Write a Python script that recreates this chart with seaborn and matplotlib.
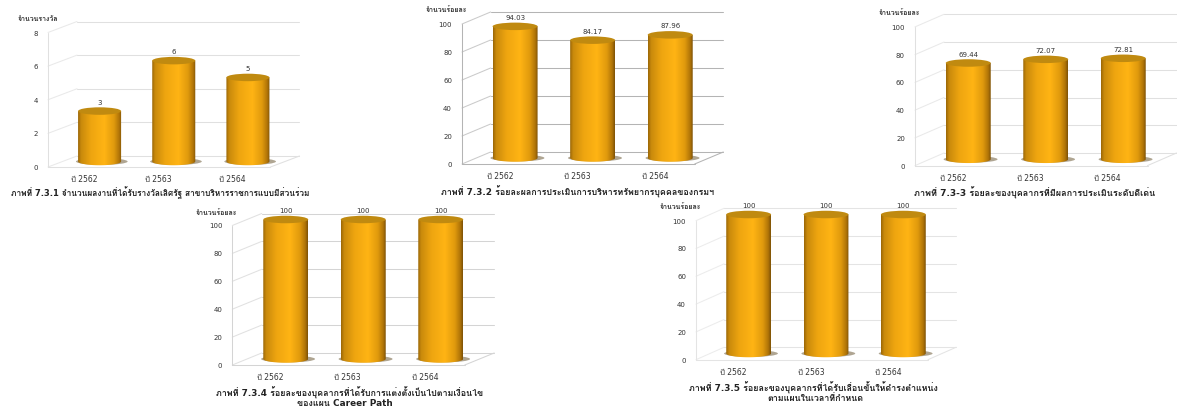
import numpy as np
import matplotlib
matplotlib.use("Agg")
import matplotlib.pyplot as plt
from matplotlib import font_manager as fm
from matplotlib.patches import Ellipse
from matplotlib.path import Path
from matplotlib.colors import LinearSegmentedColormap
from matplotlib.transforms import Affine2D
import seaborn as sns

# ---- data ----
years = ["ปี 2562", "ปี 2563", "ปี 2564"]
awards = [3, 6, 5]
hr_assessment = [94.03, 84.17, 87.96]
outstanding_staff = [69.44, 72.07, 72.81]
career_path = [100, 100, 100]
promotion = [100, 100, 100]
award_ticks = [0, 2, 4, 6, 8]
percent_ticks = [0, 20, 40, 60, 80, 100]

unit_awards = "จำนวนรางวัล"
unit_percent = "จำนวนร้อยละ"

caption_1 = ["ภาพที่ 7.3.1 จำนวนผลงานที่ได้รับรางวัลเลิศรัฐ สาขาบริหารราชการแบบมีส่วนร่วม"]
caption_2 = ["ภาพที่ 7.3.2 ร้อยละผลการประเมินการบริหารทรัพยากรบุคคลของกรมฯ"]
caption_3 = ["ภาพที่ 7.3-3 ร้อยละของบุคลากรที่มีผลการประเมินระดับดีเด่น"]
caption_4 = ["ภาพที่ 7.3.4 ร้อยละของบุคลากรที่ได้รับการแต่งตั้งเป็นไปตามเงื่อนไข", "ของแผน Career Path"]
caption_5 = ["ภาพที่ 7.3.5 ร้อยละของบุคลากรที่ได้รับเลื่อนขั้นให้ดำรงตำแหน่ง", "ตามแผนในเวลาที่กำหนด"]

W, H = 1177, 410
sns.set_theme(style="white")

# Latin and digits stay in DejaVu; Thai falls through to a family that carries it
thai_families = []
for entry in fm.fontManager.ttflist:
    try:
        if 0x0E20 in fm.get_font(entry.fname).get_charmap() and entry.name not in thai_families:
            thai_families.append(entry.name)
    except Exception:
        pass
plt.rcParams["font.family"] = ["DejaVu Sans"] + thai_families

body_cmap = LinearSegmentedColormap.from_list(
    "cylinder",
    [(0.0, "#9a6607"), (0.07, "#c98a0c"), (0.3, "#eea510"), (0.6, "#ffb414"),
     (0.82, "#e09a0d"), (0.94, "#b07408"), (1.0, "#7d5206")],
)
gradient = np.linspace(0, 1, 256).reshape(1, -1)


def draw_panel(left, right, y_zero, y_top, depth, values, ticks, unit, unit_xy,
               caption, caption_xy, grid="#e0e0e0", caption_size=6.5):
    """Oblique 3-D column chart; the axes sits on the plane through the column centres."""
    ax = fig.add_axes([left / W, 1 - y_zero / H, (right - left) / W, (y_zero - y_top) / H])
    ax.patch.set_alpha(0)
    sns.barplot(x=years, y=values, ax=ax, width=0.58, color="#f0a010", saturation=1, zorder=3)
    ax.set_xlim(-0.5, 2.5)
    ax.set_ylim(0, ticks[-1])
    ax.axis("off")

    ddx, ddy = depth
    front = ax.transData + Affine2D().translate(-ddx, -ddy)
    back = ax.transData + Affine2D().translate(ddx, ddy)
    y_per_px = ticks[-1] / (y_zero - y_top)
    ell_h = 7.5 * y_per_px

    def segment(p0, t0, p1, t1, **kw):
        a = t0.transform(p0)
        b = t1.transform(p1)
        fig.add_artist(plt.Line2D([a[0] / W, b[0] / W], [a[1] / H, b[1] / H],
                                  transform=fig.transFigure, lw=0.75, zorder=0, **kw))

    # walls and floor
    for t in ticks:
        segment((-0.5, t), front, (-0.5, t), back, color=grid, alpha=0.7)
        segment((-0.5, t), back, (2.5, t), back, color=grid)
    segment((-0.5, 0), front, (-0.5, ticks[-1]), front, color=grid)
    segment((-0.5, 0), front, (2.5, 0), front, color=grid)
    segment((2.5, 0), front, (2.5, 0), back, color=grid)

    # turn each flat bar into a shaded cylinder
    arc = np.linspace(np.pi, 2 * np.pi, 40)
    for patch, value in zip(ax.patches[:3], values):
        x0, bw = patch.get_x(), patch.get_width()
        cx = x0 + bw / 2
        ax.add_patch(Ellipse((cx + 0.03, 0), bw * 1.2, ell_h * 0.9, color="#7a6a4a",
                             alpha=0.6, zorder=2, lw=0, clip_on=False))
        xs = np.r_[x0, cx + bw / 2 * np.cos(arc), x0 + bw]
        ys = np.r_[value, ell_h / 2 * np.sin(arc), value]
        outline = Path(np.c_[xs, ys])
        patch.set_visible(False)
        im = ax.imshow(gradient, extent=[x0, x0 + bw, -ell_h, value], cmap=body_cmap,
                       aspect="auto", zorder=3, origin="lower")
        im.set_clip_box(fig.bbox)
        im.set_clip_path(outline, transform=ax.transData)
        ax.add_patch(Ellipse((cx, value), bw, ell_h, color="#c08a10", zorder=4, lw=0, clip_on=False))
        ax.annotate(f"{value}", (cx, value), xytext=(0, 6.8), textcoords="offset points",
                    ha="center", va="center", fontsize=5, color="#333333",
                    annotation_clip=False, zorder=5)
    ax.set_xlim(-0.5, 2.5)
    ax.set_ylim(0, ticks[-1])

    # axis text sits on the front plane
    for t in ticks:
        ax.text(-0.5, t, str(t), transform=front + Affine2D().translate(-10, 0),
                ha="right", va="center", fontsize=5, color="#333333", clip_on=False)
    for i, label in enumerate(years):
        ax.text(i, 0, label, transform=front + Affine2D().translate(-1, -11.5),
                ha="center", va="center", fontsize=5.5, color="#333333", clip_on=False)
    fig.text(unit_xy[0] / W, 1 - unit_xy[1] / H, unit, ha="center", va="center",
             fontsize=5, fontweight="bold", color="#333333")
    for line, (cx, cy) in zip(caption, caption_xy):
        fig.text(cx / W, 1 - cy / H, line, ha="center", va="center", fontsize=caption_size,
                 fontweight="bold", color="#222222")


fig = plt.figure(figsize=(W / 100, H / 100), dpi=100, facecolor="white")

draw_panel(62.5, 285, 162.5, 28, (14.5, 5.5), awards, award_ticks, unit_awards, (38, 19),
           caption_1, [(160, 193)], caption_size=6.0)
draw_panel(476.3, 709, 159, 19, (14.3, 6), hr_assessment, percent_ticks, unit_percent, (446, 10),
           caption_2, [(578, 192)], grid="#b4b4b4", caption_size=6.4)
draw_panel(929.5, 1162, 160.3, 21.6, (14.5, 6.3), outstanding_staff, percent_ticks, unit_percent, (899, 13),
           caption_3, [(1035, 193)], caption_size=6.5)
draw_panel(247, 479.5, 360, 220.5, (14.7, 6), career_path, percent_ticks, unit_percent, (216, 213),
           caption_4, [(350, 393), (345, 404)], grid="#d4d4d4", caption_size=6.4)
draw_panel(710, 942, 354.5, 215.5, (14, 6.2), promotion, percent_ticks, unit_percent, (680, 207),
           caption_5, [(813, 388), (815, 399)], grid="#e4e4e4", caption_size=6.4)

fig.savefig("out.png", dpi=100, facecolor="white")
